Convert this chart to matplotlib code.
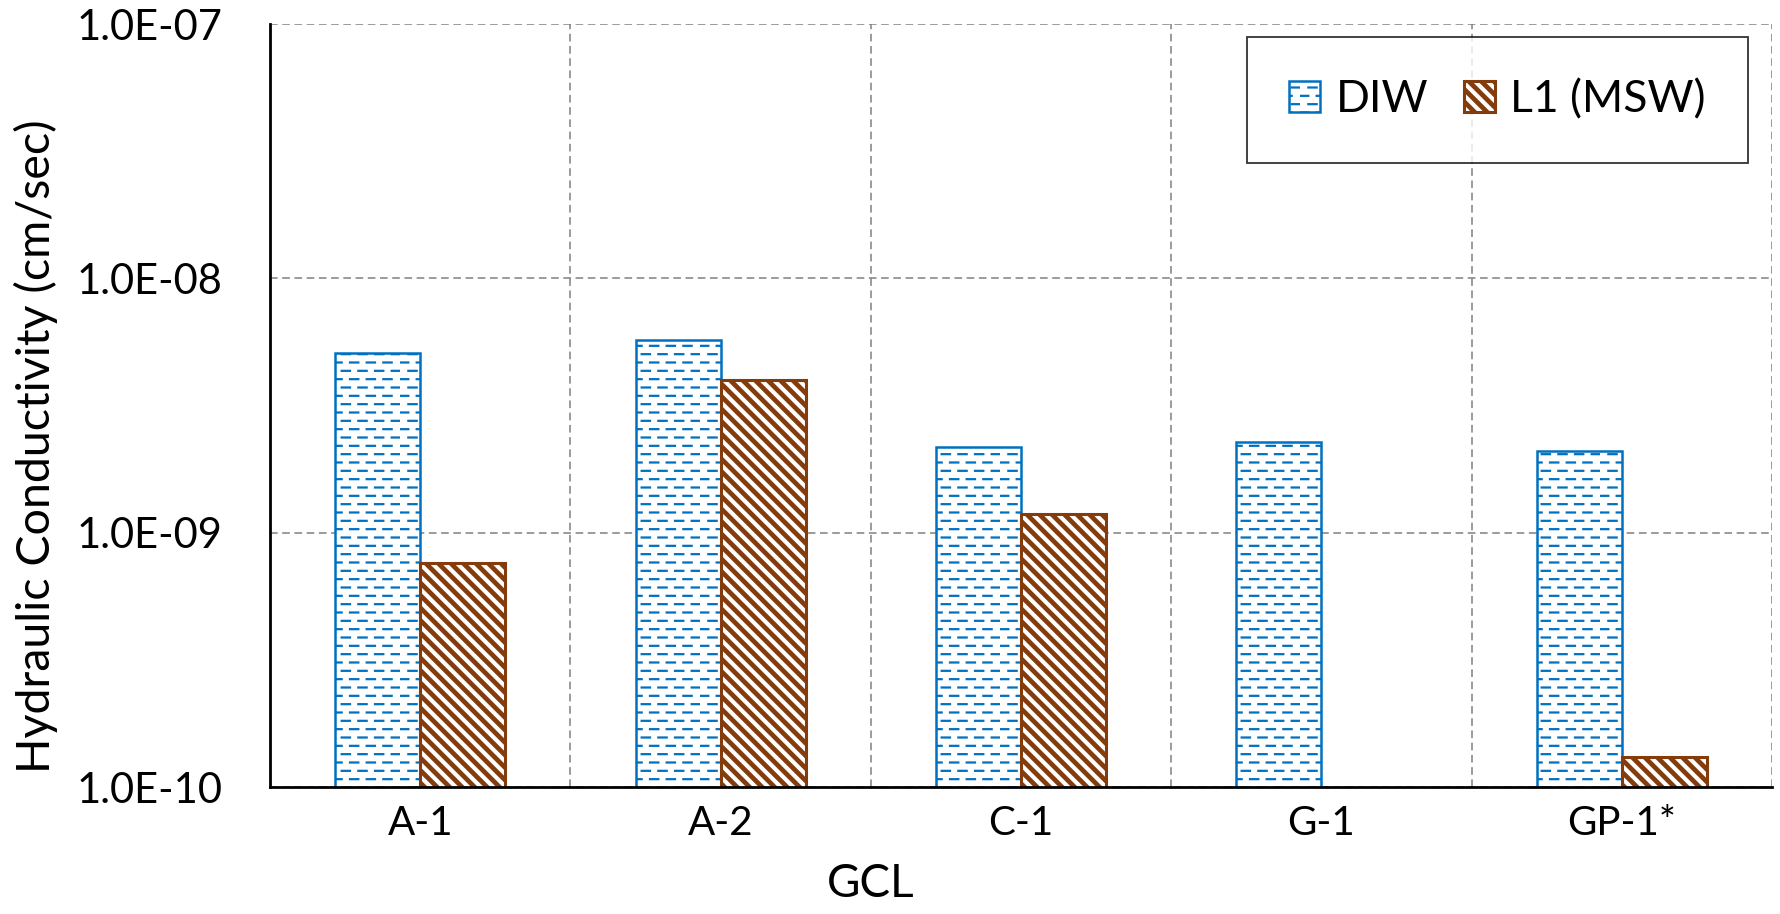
import numpy as np
import matplotlib
matplotlib.use("Agg")
import matplotlib.pyplot as plt
import matplotlib.hatch as mhatch
from matplotlib.path import Path
from matplotlib.ticker import FixedLocator, NullLocator

gcl = ["A-1", "A-2", "C-1", "G-1", "GP-1*"]
k_diw = [5.07e-9, 5.74e-9, 2.18e-9, 2.28e-9, 2.10e-9]
k_l1 = [7.6e-10, 4.0e-9, 1.18e-9, np.nan, 1.31e-10]
series = ["DIW", "L1 (MSW)"]

blue = "#0070C0"
brown = "#843C0C"


class DashedRows(mhatch.HatchPatternBase):
    # '-' gives staggered dashed rows instead of solid lines
    rows = 12
    dashes = 6

    def __init__(self, hatch, density):
        n = hatch.count('-') + hatch.count('+')
        self.num_vertices = self.rows * self.dashes * 2 if n else 0

    def set_vertices_and_codes(self, vertices, codes):
        period = 1.0 / self.dashes
        i = 0
        for r in range(self.rows):
            y = (r + 0.5) / self.rows
            shift = 0.0 if r % 2 == 0 else period / 2
            for d in range(self.dashes):
                x0 = d * period + shift
                vertices[i] = (x0, y)
                vertices[i + 1] = (x0 + period / 2, y)
                codes[i] = Path.MOVETO
                codes[i + 1] = Path.LINETO
                i += 2


class BackDiagonal(mhatch.HatchPatternBase):
    # '\\' with a fixed 8 lines per tile
    per_tile = 8

    def __init__(self, hatch, density):
        n = hatch.count('\\')
        self.num_lines = 2 * self.per_tile + 1 if n else 0
        self.num_vertices = self.num_lines * 2

    def set_vertices_and_codes(self, vertices, codes):
        c = np.arange(self.num_lines) / self.per_tile
        vertices[0::2, 0] = c - 1.0
        vertices[0::2, 1] = 1.0
        vertices[1::2, 0] = c
        vertices[1::2, 1] = 0.0
        codes[0::2] = Path.MOVETO
        codes[1::2] = Path.LINETO


mhatch._hatch_types = [DashedRows if t is mhatch.HorizontalHatch else
                       BackDiagonal if t is mhatch.SouthEastHatch else t
                       for t in mhatch._hatch_types]


def hatch_width(patch, lw):
    # per-patch hatch line width
    if hasattr(patch, "set_hatch_linewidth"):
        patch.set_hatch_linewidth(lw)
    orig = patch.draw

    def draw(renderer):
        with plt.rc_context({'hatch.linewidth': lw}):
            orig(renderer)
    patch.draw = draw


plt.rcParams['font.family'] = ['Lato', 'DejaVu Sans']

fig = plt.figure(figsize=(17.81, 9.14), dpi=100)
ax = fig.add_axes([270 / 1781, 1 - 787 / 914, 1502 / 1781, 763 / 914])

x = np.arange(len(gcl))
w = 0.283
hatch_lw = {series[0]: 1.6, series[1]: 3.4}

b1 = ax.bar(x - w / 2, k_diw, w, color="white", edgecolor=blue,
            linewidth=1.8, hatch='-', label=series[0], zorder=3)
b2 = ax.bar(x + w / 2, k_l1, w, color="white", edgecolor=brown,
            linewidth=2.2, hatch='\\', label=series[1], zorder=3)
for bars, name in ((b1, series[0]), (b2, series[1])):
    for p in bars:
        hatch_width(p, hatch_lw[name])

ax.set_yscale('log')
ax.set_ylim(1e-10, 1e-7)
ax.set_xlim(-0.5, len(gcl) - 0.5)

ax.set_yticks([1e-10, 1e-9, 1e-8, 1e-7])
ax.set_yticklabels(["1.0E-10", "1.0E-09", "1.0E-08", "1.0E-07"])
ax.yaxis.set_minor_locator(NullLocator())
ax.set_xticks(x)
ax.set_xticklabels(gcl)
ax.xaxis.set_minor_locator(FixedLocator(np.arange(len(gcl)) + 0.5))

ax.tick_params(axis='y', which='both', length=0, labelsize=30, pad=34)
ax.tick_params(axis='x', which='both', length=0, labelsize=29, pad=13)

grid_style = dict(color="#808080", linewidth=1.1, linestyle=(0, (5, 3)))
ax.grid(axis='y', which='major', **grid_style)
ax.grid(axis='x', which='minor', **grid_style)
ax.set_axisbelow(True)

for side in ('top', 'right'):
    ax.spines[side].set_visible(False)
for side in ('left', 'bottom'):
    ax.spines[side].set_linewidth(2.0)
    ax.spines[side].set_color("black")
    ax.spines[side].set_zorder(4)

ax.set_ylabel("Hydraulic Conductivity (cm/sec)", fontsize=33.5)
ax.yaxis.set_label_coords(-0.141, 0.447)
ax.set_xlabel("GCL", fontsize=33)
ax.xaxis.set_label_coords(0.40, -0.099)

leg = ax.legend(loc='upper right', bbox_to_anchor=(0.984, 0.983), ncol=2,
                fontsize=32, frameon=True, fancybox=False, borderpad=0.95,
                handlelength=0.7, handleheight=0.7, handletextpad=0.35,
                columnspacing=0.8, borderaxespad=0)
leg.get_frame().set_edgecolor("black")
leg.get_frame().set_linewidth(1.3)
for p, name in zip(leg.get_patches(), series):
    hatch_width(p, hatch_lw[name])

fig.savefig("out.png", dpi=100, facecolor="white")
